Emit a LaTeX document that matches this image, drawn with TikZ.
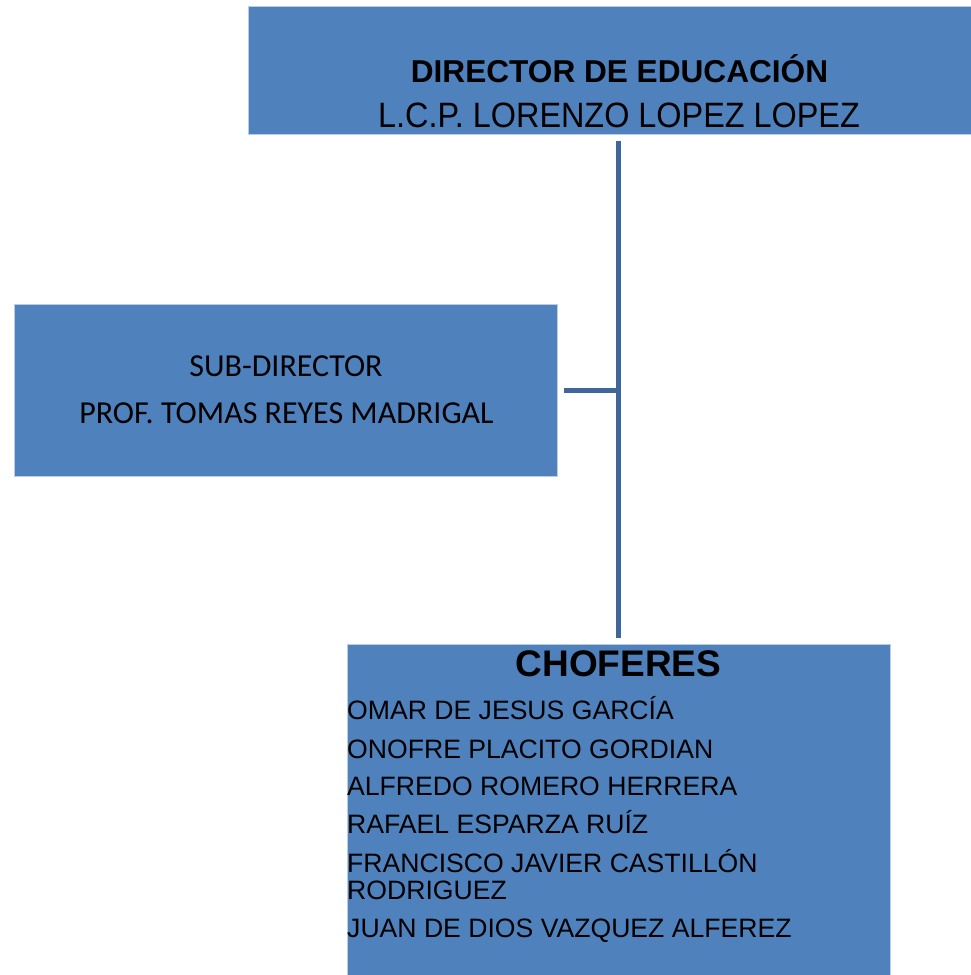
\documentclass[tikz,border=0pt]{standalone}
\usepackage{fontspec}
\setmainfont{Liberation Sans}
\newfontfamily\narrowsans[FakeStretch=0.92]{Liberation Sans}
\newfontfamily\calibrisans{Carlito}
\definecolor{boxblue}{RGB}{79,129,189}
\definecolor{boxedge}{RGB}{185,205,229}
\definecolor{linkblue}{RGB}{64,103,154}
\begin{document}
\begin{tikzpicture}[
    x=1pt, y=-1pt,
    box/.style={rectangle, fill=boxblue, draw=boxedge, line width=0.8pt, inner sep=0pt},
    txt/.style={inner sep=0pt, anchor=base},
    link/.style={draw=linkblue, line width=5pt}
  ]
  \useasboundingbox (0,0) rectangle (971,975);

  \node[box, minimum width=723pt, minimum height=128pt] (director) at (609.5,70) {};
  \node[box, minimum width=543pt, minimum height=172pt] (subdir) at (285.5,390) {};
  \node[box, minimum width=543pt, minimum height=331pt] (choferes) at (618.5,809.5) {};

  \node[txt] (dirtitle) at (619.5,82) {\fontsize{31.6}{31.6}\selectfont\bfseries DIRECTOR DE EDUCACIÓN};
  \node[txt] (dirname) at (619,127) {\fontsize{35.2}{35.2}\selectfont\narrowsans L.C.P. LORENZO LOPEZ LOPEZ};

  \node[txt] (subtitle) at (286,376) {\fontsize{32}{32}\selectfont\calibrisans SUB-DIRECTOR};
  \node[txt] (subname) at (286.5,423) {\fontsize{32}{32}\selectfont\calibrisans PROF. TOMAS REYES MADRIGAL};

  \node[txt] (chotitle) at (618.5,676) {\fontsize{37}{37}\selectfont\bfseries CHOFERES};
  \foreach \y/\who [count=\i] in {719/OMAR DE JESUS GARCÍA, 758/ONOFRE PLACITO GORDIAN,
      795/ALFREDO ROMERO HERRERA, 833/RAFAEL ESPARZA RUÍZ,
      872/FRANCISCO JAVIER CASTILLÓN, 899/RODRIGUEZ, 937/JUAN DE DIOS VAZQUEZ ALFEREZ}
    \node[txt, anchor=base west] (chofer\i) at (347,\y) {\fontsize{26.6}{26.6}\selectfont \who};

  \draw[link, shorten <=7pt, shorten >=6pt] (director.south -| choferes.north) -- (choferes.north);
  \draw[link, shorten <=7pt] (subdir.east) -- (subdir.east -| choferes.north);
\end{tikzpicture}
\end{document}
